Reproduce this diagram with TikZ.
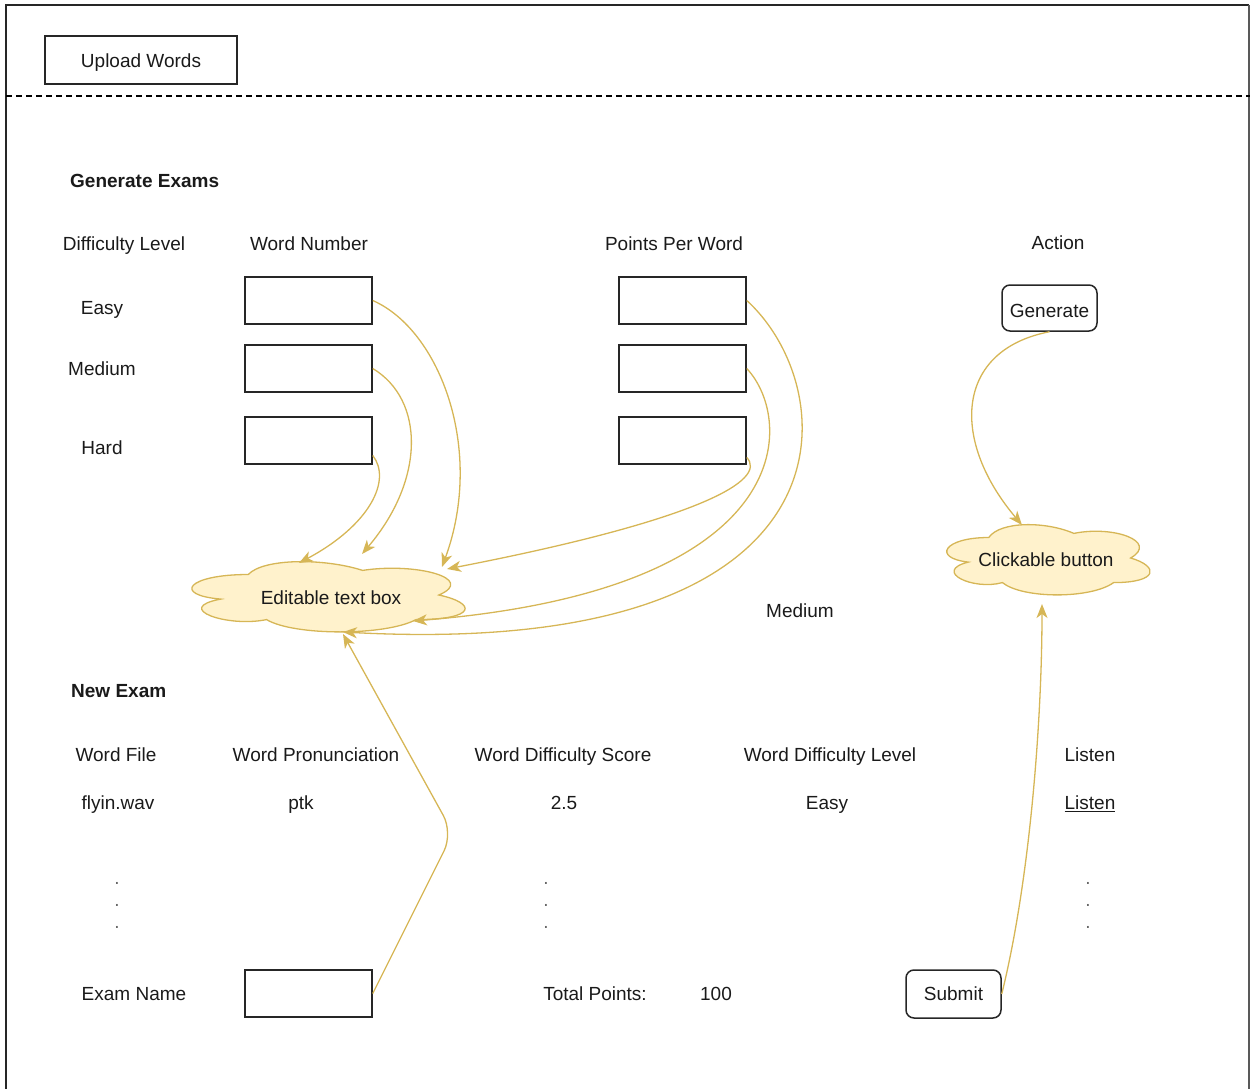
\documentclass[tikz,border=0pt]{standalone}
\usepackage{fontspec}
\setmainfont{Liberation Sans}
\usetikzlibrary{arrows.meta,calc}
\definecolor{linkc}{HTML}{D6B656}
\definecolor{notefill}{HTML}{FFF2CC}
\definecolor{inkc}{HTML}{1A1A1A}

% cloud outline in a unit box, y running downwards
\newcommand\cloudoutline{%
  (0.25,0.25) .. controls (0.05,0.25) and (0,0.5) .. (0.16,0.55)
  .. controls (0,0.66) and (0.18,0.9) .. (0.31,0.8)
  .. controls (0.4,1) and (0.7,1) .. (0.8,0.8)
  .. controls (1,0.8) and (1,0.6) .. (0.875,0.5)
  .. controls (1,0.3) and (0.8,0.1) .. (0.625,0.2)
  .. controls (0.5,0.05) and (0.3,0.05) .. (0.25,0.25) -- cycle}

\begin{document}
\begin{tikzpicture}[x=1pt,y=-1pt,
  lbl/.style={inner sep=0pt, text height=13.7pt, text depth=0pt, text=inkc,
              font=\fontsize{19}{22}\selectfont},
  hdr/.style={lbl, font=\fontsize{19}{22}\selectfont\bfseries, anchor=west},
  field/.style={draw=black!85, line width=1.5pt, minimum width=127pt,
                minimum height=47pt, inner sep=0pt},
  btn/.style={draw=black!85, line width=1.5pt, rounded corners=8pt,
              minimum width=95pt, minimum height=46pt, inner sep=0pt,
              text height=13.7pt, text depth=0pt, text=inkc,
              font=\fontsize{19}{22}\selectfont},
  notetext/.style={inner sep=0pt, text height=13.7pt, text depth=0pt, text=inkc,
               font=\fontsize{19}{22}\selectfont},
  puff/.style={draw=linkc, fill=notefill, line width=1.3pt},
  link/.style={draw=linkc, line width=1.3pt,
               -{Stealth[length=14pt,width=11pt,inset=4pt]}},
  dotmark/.style={inner sep=0pt, anchor=base, text=black!60,
                  font=\fontsize{19}{22}\selectfont},
]
\useasboundingbox (0,0) rectangle (1254,1089);

% page frame and the separator under the toolbar
\draw[line width=1.5pt, black!85] (6,1100) -- (6,5) -- (1249,5);
\draw[line width=2.2pt, black!65] (1249,5) -- (1249,1100);
\draw[line width=1.2pt, dash pattern=on 6pt off 4pt] (6,96) -- (1250,96);

% toolbar
\node[field, minimum width=192pt, minimum height=48pt, text height=15pt,
      text depth=0pt, text=inkc, font=\fontsize{19}{22}\selectfont]
  (upload) at (141,60) {Upload Words};

% ---- Generate Exams section ----
\node[hdr] (genhdr) at (70,181) {Generate Exams};

\node[lbl] (hlevel)  at (124,244) {Difficulty Level};
\node[lbl] (hnumber) at (309,244) {Word Number};
\node[lbl] (hpoints) at (674,244) {Points Per Word};
\node[lbl] (haction) at (1058,243) {Action};

\node[lbl] (leasy)   at (102,308) {Easy};
\node[lbl] (lmedium) at (102,369) {Medium};
\node[lbl] (lhard)   at (102,448) {Hard};

\node[field] (ne) at (308.5,300.5) {};
\node[field] (nm) at (308.5,368.5) {};
\node[field] (nh) at (308.5,440.5) {};
\node[field] (pe) at (682.5,300.5) {};
\node[field] (pm) at (682.5,368.5) {};
\node[field] (ph) at (682.5,440.5) {};

\node[btn, text height=19.7pt] (generate) at (1049.5,308) {Generate};

% annotation clouds
\begin{scope}[shift={(172,554)}, x=305pt, y=-82pt]
  \draw[puff] \cloudoutline;
\end{scope}
\begin{scope}[shift={(932,517)}, x=227pt, y=-82pt]
  \draw[puff] \cloudoutline;
\end{scope}
\node[notetext, minimum width=273pt, minimum height=70pt] (edit) at (331,598) {Editable text box};
\node[notetext, minimum width=203pt, minimum height=70pt] (click) at (1046,560) {Clickable button};

\node[lbl] (stray) at (800,611) {Medium};

% ---- New Exam section ----
\node[hdr] (newhdr) at (71,691) {New Exam};

\node[lbl] (hfile)  at (116,755) {Word File};
\node[lbl] (hpron)  at (316,755) {Word Pronunciation};
\node[lbl] (hscore) at (563,755) {Word Difficulty Score};
\node[lbl] (hlvl)   at (830,755) {Word Difficulty Level};
\node[lbl] (hlist)  at (1090,755) {Listen};

\node[lbl] (vfile)  at (118,803) {flyin.wav};
\node[lbl] (vpron)  at (301,803) {ptk};
\node[lbl] (vscore) at (564,803) {2.5};
\node[lbl] (vlvl)   at (827,803) {Easy};
\node[lbl] (vlist)  at (1090,803) {\underline{Listen}};

\foreach \x/\c in {117/a,546/b,1088/c}
  \foreach \y/\r in {882/1,904/2,926/3}
    \node[dotmark] (dot\c\r) at (\x,\y+2) {.};

\node[lbl] (lexam) at (134,994) {Exam Name};
\node[field] (exam) at (308.5,993.5) {};
\node[lbl] (ltotal) at (595,994) {Total Points:};
\node[lbl] (vtotal) at (716,994) {100};
\node[btn, minimum height=48pt] (submit) at (953.5,994) {Submit};

% ---- annotation links ----
\coordinate (bend) at (453,833);

\draw[link] (ne.east) .. controls (440,330) and (485,450) .. ($(edit.center)+(111,-31)$);
\draw[link] (nm.east) .. controls (425,400) and (425,480) .. ($(edit.center)+(31,-44)$);
\draw[link] ($(nh.east)+(0,15)$) .. controls (392,480) and (370,525) .. ($(edit.center)+(-32,-35)$);
\draw[link] ($(ph.east)+(0,17)$) .. controls (768,480) and (700,520) .. ($(edit.center)+(116,-29)$);
\draw[link] (pm.east) .. controls (795,420) and (800,590) .. ($(edit.center)+(82,23)$);
\draw[link] (pe.east) .. controls (845,390) and (865,660) .. ($(edit.center)+(12,34)$);
\draw[link, rounded corners=20pt] (exam.east) -- (bend) -- ($(edit.center)+(12,36)$);

\draw[link] (generate.south) .. controls (955,350) and (950,440) .. ($(click.center)+(-24,-35)$);
\draw[link] (submit.east) .. controls (1030,880) and (1042,720) .. ($(click.center)+(-4,44)$);
\end{tikzpicture}
\end{document}
